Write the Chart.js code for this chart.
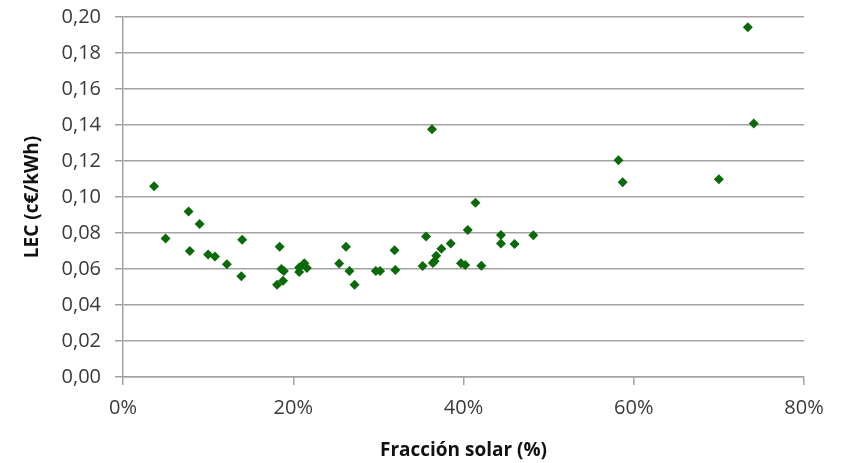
<!DOCTYPE html>
<html>
<head>
<meta charset="utf-8">
<script src="https://cdn.jsdelivr.net/npm/chart.js@4/dist/chart.umd.min.js"></script>
<style>
  html, body { margin: 0; padding: 0; background: #fff; }
  #wrap { width: 846px; height: 463px; }
</style>
</head>
<body>
<div id="wrap"><canvas id="lec-chart" width="846" height="463"></canvas></div>
<script>
// Fracción solar (%) y LEC (c€/kWh)
const fraccionSolar = [3.65, 5.0, 7.7, 7.85, 9.0, 10.0, 10.8, 12.2, 14.0, 13.9,
    18.4, 18.1, 18.8, 18.6, 18.9, 20.7, 20.7, 21.3, 21.6, 25.4,
    26.2, 26.6, 27.2, 29.7, 30.2, 31.9, 32.0, 35.2, 35.6, 36.3,
    36.4, 36.6, 36.8, 37.4, 38.5, 39.7, 40.2, 40.5, 41.4, 42.1,
    44.4, 44.4, 46.0, 48.2, 58.2, 58.7, 70.0, 73.4, 74.1];
const lec = [0.106, 0.077, 0.092, 0.070, 0.085, 0.068, 0.067, 0.0626, 0.0763, 0.056,
    0.0724, 0.0513, 0.0535, 0.060, 0.0589, 0.0609, 0.0583, 0.0632, 0.0606, 0.063,
    0.0724, 0.0589, 0.0513, 0.0589, 0.0589, 0.0704, 0.0594, 0.0617, 0.0781, 0.1376,
    0.0633, 0.0643, 0.0674, 0.0713, 0.0741, 0.0632, 0.0622, 0.0817, 0.0968, 0.0618,
    0.0789, 0.0741, 0.0739, 0.0787, 0.1204, 0.1082, 0.1098, 0.1943, 0.1409];

const xTicks = ['0%', '20%', '40%', '60%', '80%'];
const yTicks = ['0,00', '0,02', '0,04', '0,06', '0,08', '0,10', '0,12', '0,14', '0,16', '0,18', '0,20'];

const gridGray = '#a3a3a3';
const textColor = '#3a3a3a';
const fontFamily = '"Open Sans", "Noto Sans", sans-serif';

const points = fraccionSolar.map((x, i) => ({ x: x, y: lec[i] }));

const ctx = document.getElementById('lec-chart').getContext('2d');

new Chart(ctx, {
    type: 'scatter',
    data: {
        datasets: [{
            label: 'LEC',
            data: points,
            pointStyle: 'rectRot',
            pointRadius: 5,
            pointBorderWidth: 0,
            backgroundColor: '#0a6a0a',
            borderColor: '#0a6a0a'
        }]
    },
    options: {
        responsive: false,
        maintainAspectRatio: false,
        animation: false,
        layout: {
            padding: { left: 0, right: 42, top: 17, bottom: 0 }
        },
        plugins: {
            legend: { display: false },
            tooltip: { enabled: false }
        },
        scales: {
            x: {
                type: 'linear',
                min: 0,
                max: 80,
                afterBuildTicks: function(scale) {
                    scale.ticks = xTicks.map((t, i) => ({ value: i * 20 }));
                },
                afterFit: function(scale) {
                    scale.height = 86;
                },
                grid: {
                    drawOnChartArea: false,
                    drawTicks: true,
                    tickLength: 8,
                    color: gridGray,
                    lineWidth: 1.5
                },
                border: { display: true, color: gridGray, width: 1.5 },
                ticks: {
                    padding: 11,
                    color: textColor,
                    font: { family: fontFamily, size: 20 },
                    maxRotation: 0,
                    callback: function(value, index) {
                        return xTicks[index];
                    }
                },
                title: {
                    display: true,
                    text: 'Fracción solar (%)',
                    color: '#111',
                    font: { family: fontFamily, size: 19, weight: 'bold' },
                    padding: { top: 1, bottom: 1 }
                }
            },
            y: {
                type: 'linear',
                min: 0,
                max: 0.2,
                afterBuildTicks: function(scale) {
                    scale.ticks = yTicks.map((t, i) => ({ value: i * 0.02 }));
                },
                afterFit: function(scale) {
                    // la separación de las etiquetas no debe empujar el área de trazado
                    scale.width = 123;
                    scale.paddingTop = 12;
                    scale.paddingBottom = 0;
                },
                grid: {
                    drawTicks: true,
                    tickLength: 8,
                    color: gridGray,
                    lineWidth: 1.5
                },
                border: { display: true, color: gridGray, width: 1.5 },
                ticks: {
                    padding: 14,
                    color: textColor,
                    font: { family: fontFamily, size: 20 },
                    callback: function(value, index) {
                        return yTicks[index];
                    }
                },
                title: {
                    display: true,
                    text: 'LEC (c€/kWh)',
                    color: '#111',
                    font: { family: fontFamily, size: 19, weight: 'bold' },
                    padding: { top: 21, bottom: 0 }
                }
            }
        }
    }
});
</script>
</body>
</html>
